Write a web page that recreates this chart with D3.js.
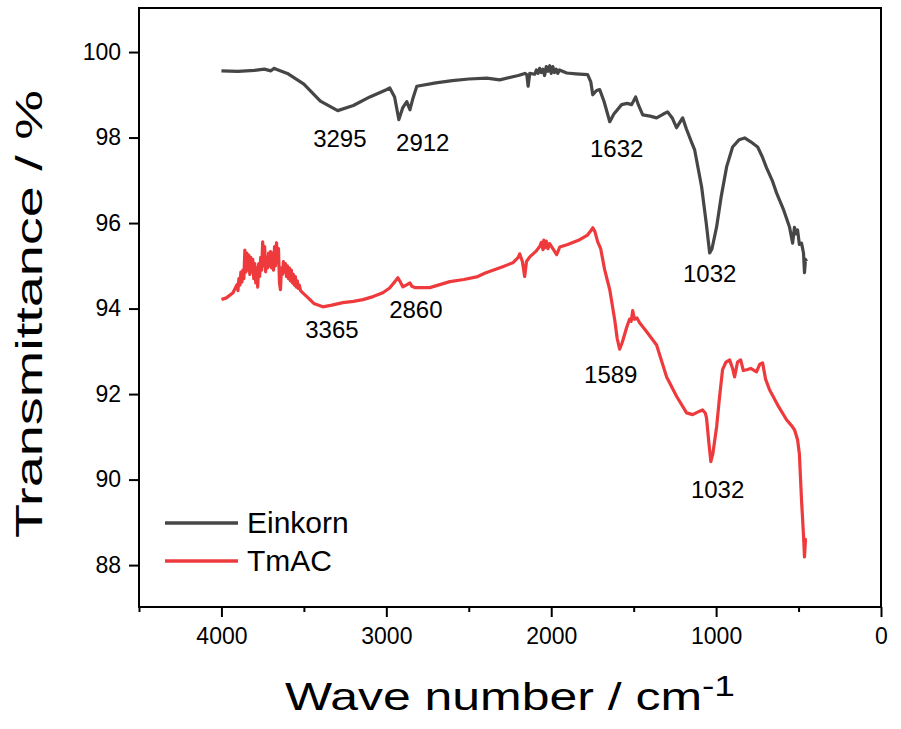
<!DOCTYPE html>
<html>
<head>
<meta charset="utf-8">
<script src="https://cdn.jsdelivr.net/npm/d3@7"></script>
<style>
  body { margin: 0; background: #fff; }
  text { font-family: 'Liberation Sans', Arial, sans-serif; fill: #000; }
</style>
</head>
<body>
<script>
//Einkorn spectrum (wave number, transmittance)
const einkornWn = [4000, 3900, 3800, 3740, 3700, 3680, 3664, 3600, 3500, 3400, 3295, 3200, 3100, 3000, 2979, 2950, 2924, 2900, 2876, 2857, 2840, 2815,
  2700, 2600, 2500, 2391, 2312, 2200, 2160, 2148, 2140, 2130, 2100, 2090, 2080, 2070, 2060, 2050, 2040, 2030, 2020, 2009, 2000, 1990, 1980, 1970, 1960, 1950, 1906,
  1850, 1779, 1760, 1748, 1725, 1706, 1680, 1645, 1620, 1573, 1540, 1512, 1488, 1470, 1445, 1400, 1361, 1320, 1294, 1265,
  1240, 1203, 1180, 1148, 1130, 1110, 1088, 1060, 1039, 1025, 997, 970, 936, 900, 860, 827, 790, 748, 720, 694,
  660, 633, 590, 555, 536, 525, 515, 506, 495, 482, 470, 464, 458, 452]
const einkornT = [99.56, 99.55, 99.57, 99.6, 99.56, 99.62, 99.59, 99.5, 99.25, 98.85, 98.63, 98.75, 98.95, 99.12, 99.16, 98.95, 98.42, 98.7, 98.84, 98.65, 98.9, 99.2,
  99.28, 99.33, 99.37, 99.39, 99.35, 99.45, 99.5, 99.47, 99.2, 99.5, 99.48, 99.58, 99.5, 99.62, 99.52, 99.6, 99.45, 99.66, 99.55, 99.68, 99.5, 99.66, 99.52, 99.6, 99.5, 99.58, 99.51,
  99.49, 99.47, 99.3, 99.0, 99.1, 99.12, 98.85, 98.37, 98.55, 98.77, 98.8, 98.77, 98.95, 98.75, 98.53, 98.5, 98.46, 98.55, 98.6, 98.45,
  98.23, 98.46, 98.2, 97.88, 97.71, 97.3, 96.85, 96.0, 95.3, 95.4, 95.91, 96.6, 97.32, 97.78, 97.95, 97.99, 97.9, 97.78, 97.55, 97.29,
  97.0, 96.7, 96.3, 95.91, 95.53, 95.9, 95.75, 95.84, 95.5, 95.53, 95.3, 94.84, 95.15, 95.1]

//TmAC spectrum (wave number, transmittance)
const tmacWn = [4000, 3970, 3930, 3906, 3900, 3894, 3888, 3882, 3876, 3870, 3864, 3858, 3852, 3846, 3840, 3834, 3828, 3822, 3816, 3810,
  3804, 3798, 3792, 3786, 3780, 3774, 3768, 3762, 3756, 3750, 3744, 3738, 3732, 3726, 3720, 3714, 3708, 3702, 3696, 3690,
  3684, 3678, 3672, 3666, 3660, 3654, 3648, 3642, 3636, 3630, 3624, 3618, 3612, 3606, 3600, 3594, 3588, 3582, 3576, 3570,
  3564, 3558, 3552, 3546, 3540, 3534, 3528, 3520, 3510, 3482, 3440, 3385, 3330, 3264, 3200, 3142,
  3080, 3021, 2980, 2948, 2930, 2915, 2900, 2880, 2857, 2845, 2827, 2736, 2615, 2530, 2452, 2400, 2294, 2233, 2200, 2191,
  2175, 2161, 2150, 2130, 2090, 2070, 2060, 2050, 2045, 2039, 2030, 2020, 2010, 1990, 1967, 1948, 1900, 1827, 1780, 1760, 1748, 1735, 1718, 1700,
  1676, 1645, 1615, 1600, 1585, 1570, 1543, 1525, 1515, 1506, 1495, 1480, 1464, 1420, 1361, 1300, 1240, 1179, 1142, 1100,
  1082, 1065, 1058, 1045, 1032, 1020, 997, 980, 961, 940, 918, 900, 888, 870, 851, 835, 815, 790, 755, 735,
  718, 700, 676, 620, 573, 540, 524, 506, 495, 482, 470, 464, 458, 452]
const tmacT = [94.21, 94.25, 94.37, 94.56, 94.42, 94.7, 94.55, 94.85, 94.62, 94.9, 94.7, 95.37, 94.85, 95.3, 94.9, 95.25, 94.8, 95.2, 94.85, 95.15,
  94.7, 95.05, 94.6, 94.95, 94.5, 95.05, 94.75, 95.2, 94.9, 95.56, 95.0, 95.45, 94.86, 95.2, 94.95, 95.3, 95.0, 95.33, 94.95, 95.3,
  94.9, 95.45, 95.0, 95.54, 95.1, 95.4, 94.6, 94.44, 94.95, 94.8, 95.1, 94.85, 95.05, 94.75, 95.0, 94.7, 94.95, 94.65, 94.9, 94.6,
  94.8, 94.55, 94.75, 94.5, 94.65, 94.47, 94.55, 94.42, 94.38, 94.28, 94.12, 94.04, 94.08, 94.14, 94.17, 94.21,
  94.28, 94.37, 94.48, 94.63, 94.72, 94.62, 94.51, 94.55, 94.6, 94.52, 94.49, 94.49, 94.63, 94.68, 94.74, 94.83, 94.98, 95.07, 95.2, 95.28,
  95.1, 94.75, 95.1, 95.21, 95.35, 95.45, 95.55, 95.38, 95.6, 95.42, 95.58, 95.4, 95.52, 95.4, 95.26, 95.44, 95.5, 95.61, 95.72, 95.82, 95.89, 95.8, 95.56, 95.4,
  94.91, 94.44, 93.74, 93.3, 93.05, 93.2, 93.55, 93.75, 93.7, 93.95, 93.75, 93.78, 93.67, 93.45, 93.15, 92.4, 91.95, 91.56, 91.52, 91.6,
  91.63, 91.55, 91.44, 90.9, 90.42, 90.6, 91.23, 91.9, 92.57, 92.75, 92.8, 92.6, 92.4, 92.75, 92.8, 92.55, 92.57, 92.6, 92.52, 92.7,
  92.73, 92.35, 92.1, 91.7, 91.4, 91.25, 91.16, 90.93, 90.6, 89.52, 88.7, 88.19, 88.6, 88.59]

//peak labels, placed in data units (centre of text, baseline)
const peakText = ['3295', '2912', '1632', '1032', '3365', '2860', '1589', '1032']
const peakWn = [3282, 2779, 1603, 1039, 3330, 2821, 1639, 991]
const peakT = [97.78, 97.69, 97.55, 94.63, 93.32, 93.78, 92.26, 89.57]

const xTicks = [4000, 3000, 2000, 1000, 0]
const xMinor = [4500, 3500, 2500, 1500, 500]
const yTicks = [100, 98, 96, 94, 92, 90, 88]

const seriesNames = ['Einkorn', 'TmAC']
const colors = ['#464646', '#ee3a3c']

const width = 901
const height = 729
const plotLeft = 139
const plotRight = 881
const plotTop = 8
const plotBottom = 607

const xScale = d3.scaleLinear().domain([4500, 0]).range([plotLeft, plotRight])
const yScale = d3.scaleLinear().domain([101.03, 87.02]).range([plotTop, plotBottom])

const svg = d3.select('body')
  .append('svg')
  .attr('width', width)
  .attr('height', height)

const line = d3.line()
  .x((d) => xScale(d[0]))
  .y((d) => yScale(d[1]))

const series = [
  d3.zip(einkornWn, einkornT),
  d3.zip(tmacWn, tmacT)
]

svg.selectAll('path.spec')
  .data(series)
  .enter()
  .append('path')
  .attr('class', 'spec')
  .attr('d', line)
  .attr('fill', 'none')
  .attr('stroke', (d, i) => colors[i])
  .attr('stroke-width', 3.2)
  .attr('stroke-linejoin', 'round')

//axes
const xAxis = d3.axisBottom(xScale).tickValues(xTicks).tickSize(10).tickPadding(11).tickFormat(d3.format('d'))
const xAxisMinor = d3.axisBottom(xScale).tickValues(xMinor).tickSize(5).tickFormat('')
const yAxis = d3.axisLeft(yScale).tickValues(yTicks).tickSize(10).tickPadding(8)

const gx = svg.append('g')
  .attr('transform', 'translate(0,' + plotBottom + ')')
  .call(xAxis)
svg.append('g')
  .attr('transform', 'translate(0,' + plotBottom + ')')
  .call(xAxisMinor)
const gy = svg.append('g')
  .attr('transform', 'translate(' + plotLeft + ',0)')
  .call(yAxis)

svg.selectAll('.domain').remove()
svg.selectAll('.tick line').attr('stroke', '#000').attr('stroke-width', 2)
gx.selectAll('.tick text').attr('font-size', '23px').attr('fill', '#000')
  .attr('font-family', "'Liberation Sans', Arial, sans-serif")
gy.selectAll('.tick text').attr('font-size', '23px').attr('fill', '#000')
  .attr('font-family', "'Liberation Sans', Arial, sans-serif")

//frame
svg.append('rect')
  .attr('x', plotLeft)
  .attr('y', plotTop)
  .attr('width', plotRight - plotLeft)
  .attr('height', plotBottom - plotTop)
  .attr('fill', 'none')
  .attr('stroke', '#000')
  .attr('stroke-width', 2)

//peak labels
svg.selectAll('text.peak')
  .data(peakText)
  .enter()
  .append('text')
  .attr('class', 'peak')
  .attr('x', (d, i) => xScale(peakWn[i]))
  .attr('y', (d, i) => yScale(peakT[i]))
  .attr('text-anchor', 'middle')
  .attr('font-size', '24px')
  .text((d) => d)

//legend
const legend = svg.selectAll('g.legend')
  .data(seriesNames)
  .enter()
  .append('g')
  .attr('class', 'legend')
  .attr('transform', (d, i) => 'translate(165,' + (523 + i * 38) + ')')

legend.append('line')
  .attr('x1', 0)
  .attr('x2', 73)
  .attr('stroke', (d, i) => colors[i])
  .attr('stroke-width', 3.5)

legend.append('text')
  .attr('x', 82)
  .attr('y', 10)
  .attr('font-size', '30px')
  .text((d) => d)

//axis titles
const xTitle = svg.append('text')
  .attr('x', 285)
  .attr('y', 710)
  .attr('font-size', '39px')
  .attr('textLength', 450)
  .attr('lengthAdjust', 'spacingAndGlyphs')
xTitle.append('tspan').text('Wave number / cm')
xTitle.append('tspan').attr('dy', -14).attr('font-size', '29px').text('-1')

svg.append('text')
  .attr('transform', 'translate(42,314) rotate(-90)')
  .attr('text-anchor', 'middle')
  .attr('font-size', '37px')
  .attr('textLength', 448)
  .attr('lengthAdjust', 'spacingAndGlyphs')
  .text('Transmittance / %')
</script>
</body>
</html>
